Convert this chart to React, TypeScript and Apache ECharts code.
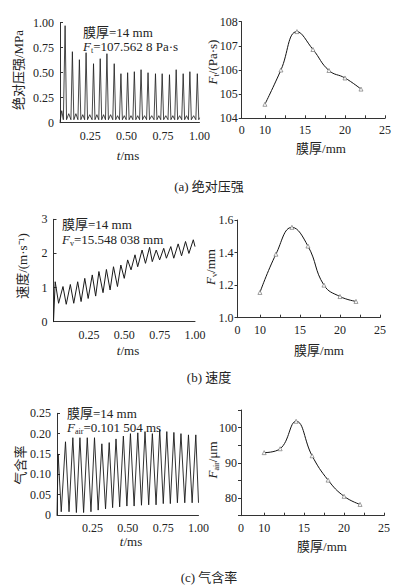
import React, { useEffect, useRef } from 'react';
import * as echarts from 'echarts';

// ---------- data ----------
const thickness = [10, 12, 14, 16, 18, 20, 22];
const ftValues = [104.58, 106.0, 107.59, 106.85, 105.98, 105.67, 105.21];
const fvValues = [1.155, 1.39, 1.555, 1.44, 1.2, 1.13, 1.1];
const fairValues = [92.9, 94.0, 101.8, 92.0, 85.1, 80.5, 78.2];

const timeTicks = [0.25, 0.5, 0.75, 1.0];
const thickTicks = [10, 15, 20, 25];
const thickMinorTicks = [10, 12.5, 15, 17.5, 20, 22.5, 25];

// absolute pressure (MPa) vs t (ms)
const pressure: number[][] = [
  [0.043, 0.01], [0.055, 0.12], [0.066, 0.03], [0.078, 0.97], [0.088, 0.03], [0.103, 0.09], [0.118, 0.03],
  [0.128, 0.71], [0.138, 0.03], [0.152, 0.09], [0.166, 0.03],
  [0.176, 0.63], [0.186, 0.03], [0.199, 0.08], [0.212, 0.03],
  [0.222, 0.70], [0.232, 0.03], [0.247, 0.08], [0.263, 0.03],
  [0.273, 0.59], [0.283, 0.03], [0.296, 0.08], [0.309, 0.03],
  [0.319, 0.64], [0.329, 0.03], [0.342, 0.08], [0.355, 0.03],
  [0.365, 0.69], [0.375, 0.03], [0.390, 0.08], [0.405, 0.03],
  [0.415, 0.59], [0.425, 0.03], [0.438, 0.07], [0.451, 0.03],
  [0.461, 0.49], [0.471, 0.03], [0.484, 0.07], [0.497, 0.03],
  [0.507, 0.50], [0.517, 0.03], [0.530, 0.07], [0.543, 0.03],
  [0.553, 0.51], [0.563, 0.03], [0.576, 0.07], [0.589, 0.03],
  [0.599, 0.53], [0.609, 0.03], [0.623, 0.07], [0.637, 0.03],
  [0.647, 0.50], [0.657, 0.03], [0.672, 0.07], [0.688, 0.03],
  [0.698, 0.49], [0.708, 0.03], [0.721, 0.07], [0.734, 0.03],
  [0.744, 0.49], [0.754, 0.03], [0.769, 0.07], [0.784, 0.03],
  [0.794, 0.48], [0.804, 0.03], [0.817, 0.07], [0.830, 0.03],
  [0.840, 0.53], [0.850, 0.03], [0.864, 0.07], [0.878, 0.03],
  [0.888, 0.49], [0.898, 0.03], [0.911, 0.07], [0.924, 0.03],
  [0.934, 0.51], [0.944, 0.03], [0.960, 0.07], [0.975, 0.03],
  [0.985, 0.49], [0.995, 0.03], [1.0, 0.05],
];

// velocity (m/s) vs t (ms)
const velocity: number[][] = [
  [0, 0], [0.012, 1.17], [0.036, 0.54], [0.067, 1.03], [0.09, 0.51], [0.119, 1.09], [0.143, 0.54],
  [0.171, 1.17], [0.195, 0.59], [0.221, 1.27], [0.245, 0.68], [0.274, 1.37], [0.298, 0.75],
  [0.321, 1.47], [0.35, 0.85], [0.374, 1.53], [0.4, 0.93], [0.424, 1.61], [0.452, 1.03],
  [0.476, 1.66], [0.5, 1.27], [0.524, 1.81], [0.548, 1.52], [0.576, 1.96], [0.595, 1.61],
  [0.626, 2.1], [0.65, 1.71], [0.679, 2.18], [0.698, 1.76], [0.726, 2.1], [0.75, 1.81],
  [0.779, 2.15], [0.798, 1.86], [0.829, 2.2], [0.85, 1.86], [0.881, 2.28], [0.905, 1.93],
  [0.933, 2.35], [0.957, 2.0], [0.988, 2.4], [1.0, 2.2],
];

// gas fraction vs t (ms)
const gasFraction: number[][] = [
  [0, 0.0], [0.008, 0.15], [0.03, 0.008], [0.06, 0.18], [0.085, 0.008], [0.112, 0.19], [0.137, 0.006],
  [0.162, 0.19], [0.188, 0.006], [0.214, 0.19], [0.24, 0.008], [0.265, 0.19], [0.291, 0.012],
  [0.317, 0.175], [0.343, 0.015], [0.369, 0.178], [0.393, 0.018], [0.417, 0.187], [0.443, 0.02],
  [0.469, 0.194], [0.494, 0.022], [0.519, 0.2], [0.545, 0.022], [0.571, 0.202], [0.597, 0.024],
  [0.622, 0.205], [0.648, 0.025], [0.674, 0.2], [0.7, 0.025], [0.726, 0.209], [0.751, 0.028],
  [0.776, 0.205], [0.801, 0.028], [0.826, 0.203], [0.851, 0.03], [0.876, 0.2], [0.903, 0.03],
  [0.929, 0.197], [0.955, 0.03], [0.981, 0.197], [1.0, 0.03],
];

// ---------- styling ----------
const FONT = '"Liberation Serif", "Noto Sans CJK SC", serif';
const INK = '#222';
const AXIS = '#333';

const richStyles = {
  n: { fontFamily: FONT, fontSize: 13, fill: INK, color: INK, lineHeight: 16 },
  i: { fontFamily: FONT, fontSize: 13, fontStyle: 'italic', fill: INK, color: INK, lineHeight: 16 },
  s: { fontFamily: FONT, fontSize: 8, fill: INK, color: INK, lineHeight: 8, verticalAlign: 'bottom' },
};

function txt(text: string, x: number, y: number, opts: any = {}) {
  return {
    type: 'text',
    x,
    y,
    rotation: opts.rotation || 0,
    silent: true,
    style: {
      text,
      rich: richStyles,
      font: `13px ${FONT}`,
      fill: INK,
      align: opts.align || 'center',
      verticalAlign: 'middle',
      textAlign: opts.align || 'center',
      textVerticalAlign: 'middle',
    },
  };
}

const labelStyle = { fontFamily: FONT, fontSize: 12, color: INK };

function timeAxis(grid: number, min: number) {
  return {
    type: 'value',
    gridIndex: grid,
    min,
    max: 1,
    axisLine: { show: true, lineStyle: { color: AXIS, width: 1 } },
    axisTick: { show: false },
    splitLine: { show: false },
    axisLabel: {
      ...labelStyle,
      margin: 7,
      customValues: timeTicks,
      formatter: (v: number) => v.toFixed(2),
    },
  };
}

function thickAxis(grid: number, min: number) {
  return {
    type: 'value',
    gridIndex: grid,
    min,
    max: 25,
    axisLine: { show: true, lineStyle: { color: AXIS, width: 1 } },
    axisTick: { show: true, inside: true, length: 3, customValues: thickMinorTicks, lineStyle: { color: AXIS } },
    splitLine: { show: false },
    axisLabel: {
      ...labelStyle,
      margin: 6,
      customValues: [min, ...thickTicks],
      formatter: (v: number) => (v < 9 ? '0' : String(v)),
    },
  };
}

function valueY(grid: number, min: number, max: number, interval: number, fmt: (v: number) => string, inside: boolean) {
  return {
    type: 'value',
    gridIndex: grid,
    min,
    max,
    interval,
    axisLine: { show: true, lineStyle: { color: AXIS, width: 1 } },
    axisTick: { show: true, inside, length: 3, lineStyle: { color: AXIS } },
    splitLine: { show: false },
    axisLabel: { ...labelStyle, margin: inside ? 6 : 4, formatter: fmt },
  };
}

const waveSeries = (data: number[][], idx: number, width: number) => ({
  type: 'line',
  xAxisIndex: idx,
  yAxisIndex: idx,
  data,
  showSymbol: false,
  symbol: 'none',
  lineStyle: { color: '#1a1a1a', width },
  silent: true,
});

const fitSeries = (values: number[], idx: number) => ({
  type: 'line',
  xAxisIndex: idx,
  yAxisIndex: idx,
  data: thickness.map((t, k) => [t, values[k]]),
  smooth: 0.45,
  symbol: 'triangle',
  symbolSize: 4,
  itemStyle: { color: '#fff', borderColor: '#777', borderWidth: 0.7 },
  lineStyle: { color: '#111', width: 1 },
  silent: true,
});

const option: any = {
  animation: false,
  backgroundColor: '#fff',
  grid: [
    { left: 60, top: 22.7, width: 139.5, height: 100, outerBoundsMode: 'none' },
    { left: 241.7, top: 21.7, width: 143.3, height: 96.6, outerBoundsMode: 'none' },
    { left: 53.5, top: 219.3, width: 141.5, height: 102.4, outerBoundsMode: 'none' },
    { left: 237.5, top: 220, width: 142.5, height: 97.7, outerBoundsMode: 'none' },
    { left: 57, top: 413.3, width: 141.5, height: 101.7, outerBoundsMode: 'none' },
    { left: 241, top: 410, width: 143, height: 105.7, outerBoundsMode: 'none' },
  ],
  xAxis: [
    timeAxis(0, 0.043),
    thickAxis(1, 7.1),
    timeAxis(2, 0),
    thickAxis(3, 7.2),
    timeAxis(4, 0),
    thickAxis(5, 7.1),
  ],
  yAxis: [
    valueY(0, 0, 1, 0.25, (v) => (v === 0 ? '0' : v.toFixed(2)), true),
    valueY(1, 104, 108, 1, (v) => String(v), false),
    valueY(2, 0, 3, 1, (v) => String(v), true),
    valueY(3, 1.0, 1.6, 0.2, (v) => v.toFixed(1), false),
    valueY(4, 0, 0.25, 0.05, (v) => (v === 0 ? '0' : v.toFixed(2)), true),
    valueY(5, 75, 105, 5, (v) => (Math.round(v) % 10 === 0 ? String(Math.round(v)) : ''), false),
  ],
  series: [
    waveSeries(pressure, 0, 0.8),
    fitSeries(ftValues, 1),
    waveSeries(velocity, 2, 1),
    fitSeries(fvValues, 3),
    waveSeries(gasFraction, 4, 0.9),
    fitSeries(fairValues, 5),
  ],
  graphic: [
    // (a)
    txt('{n|膜厚=14 mm}', 83, 32, { align: 'left' }),
    txt('{i|F}{s|t}{n|=107.562 8 Pa·s}', 83, 46, { align: 'left' }),
    txt('{n|绝对压强/MPa}', 18, 70, { rotation: Math.PI / 2 }),
    txt('{i|F}{s|t}{n|/(Pa·s)}', 212, 62, { rotation: Math.PI / 2 }),
    txt('{i|t}{n|/ms}', 128, 155),
    txt('{n|膜厚/mm}', 321, 148),
    txt('{n|(a) 绝对压强}', 209, 186),
    // (b)
    txt('{n|膜厚=14 mm}', 62, 224, { align: 'left' }),
    txt('{i|F}{s|v}{n|=15.548 038 mm}', 62, 239, { align: 'left' }),
    txt('{n|速度/(m·s⁻¹)}', 22, 266, { rotation: Math.PI / 2 }),
    txt('{i|F}{s|v}{n|/mm}', 210, 267, { rotation: Math.PI / 2 }),
    txt('{i|t}{n|/ms}', 128, 350),
    txt('{n|膜厚/mm}', 319, 350),
    txt('{n|(b) 速度}', 209, 377),
    // (c)
    txt('{n|膜厚=14 mm}', 67, 413, { align: 'left' }),
    txt('{i|F}{s|air}{n|=0.101 504 ms}', 67, 427, { align: 'left' }),
    txt('{n|气含率}', 20, 465, { rotation: Math.PI / 2 }),
    txt('{i|F}{s|air}{n|/μm}', 212, 460, { rotation: Math.PI / 2 }),
    txt('{i|t}{n|/ms}', 131, 541),
    txt('{n|膜厚/mm}', 322, 546),
    txt('{n|(c) 气含率}', 209, 577),
  ],
};

export default function App() {
  const ref = useRef<HTMLDivElement>(null);
  useEffect(() => {
    if (!ref.current) return;
    const chart = echarts.init(ref.current, null, { renderer: 'svg' });
    chart.setOption(option);
    return () => chart.dispose();
  }, []);
  return (
    <div
      ref={ref}
      style={{ position: 'fixed', left: 0, top: 0, width: 399, height: 586, background: '#fff' }}
    />
  );
}
